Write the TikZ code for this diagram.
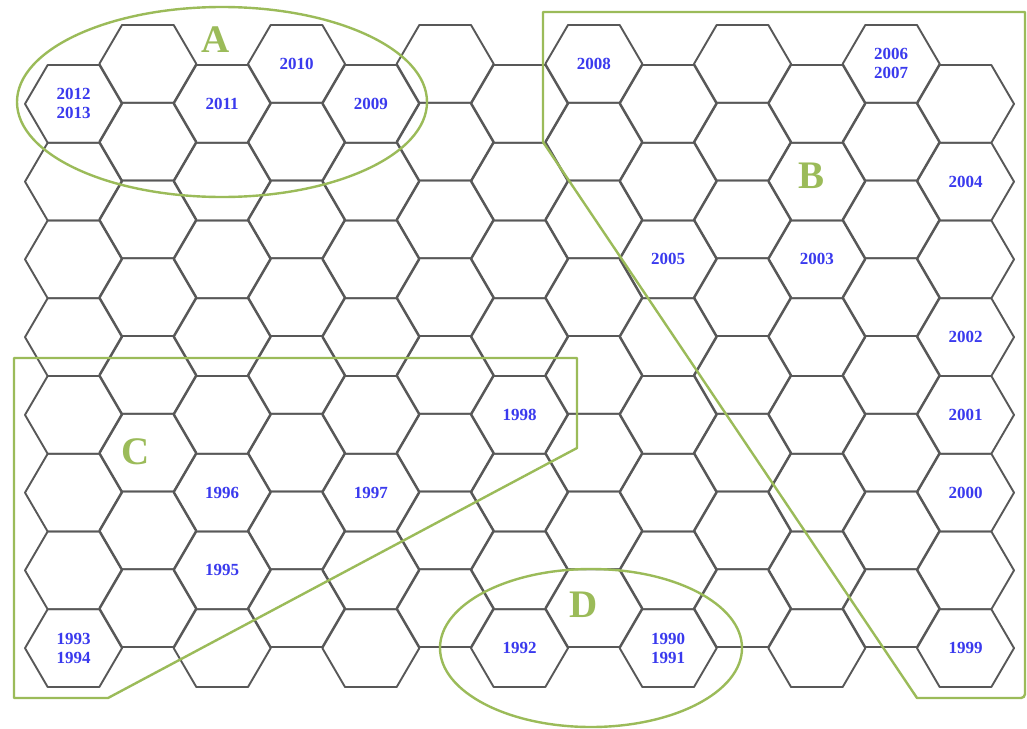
\documentclass[tikz,border=0pt]{standalone}
\usepackage{fontspec}
\setmainfont{Liberation Serif}
\definecolor{hexgray}{RGB}{88,88,88}
\definecolor{regiongreen}{RGB}{155,187,89}
\definecolor{yearblue}{RGB}{58,58,238}
\begin{document}
\begin{tikzpicture}[x=1pt,y=-1pt,
  hexline/.style={draw=hexgray,line width=1.9pt,line join=round},
  region/.style={draw=regiongreen,line width=2.4pt,line join=round},
  yr/.style={text=yearblue,font=\fontsize{17}{19}\selectfont\bfseries,align=center,inner sep=0pt},
  letter/.style={text=regiongreen,font=\fontsize{39}{40}\selectfont\bfseries,inner sep=0pt}]
\useasboundingbox (0,0) rectangle (1027,728);
\fill[white] (0,0) rectangle (1027,728);
% hexagon grid: 13 columns x 8 rows
\foreach \c in {1,...,13}{
  \foreach \r in {1,...,8}{
    \pgfmathsetmacro\cx{73.5+(\c-1)*74.333}
    \pgfmathsetmacro\cy{63.875+40*mod(\c,2)+(\r-1)*77.75}
    \coordinate (h-\c-\r) at (\cx,\cy);
    \draw[hexline] (\cx-48.5,\cy) -- ++(22.67,-38.875) -- ++(51.67,0)
      -- ++(22.67,38.875) -- ++(-22.67,38.875) -- ++(-51.67,0) -- cycle;
  }
}
% year labels
\node[yr] (y2012) at (h-1-1) {2012\\2013};
\node[yr] (y2011) at (h-3-1) {2011};
\node[yr] (y2010) at (h-4-1) {2010};
\node[yr] (y2009) at (h-5-1) {2009};
\node[yr] (y2008) at (h-8-1) {2008};
\node[yr] (y2006) at (h-12-1) {2006\\2007};
\node[yr] (y2004) at (h-13-2) {2004};
\node[yr] (y2005) at (h-9-3) {2005};
\node[yr] (y2003) at (h-11-3) {2003};
\node[yr] (y2002) at (h-13-4) {2002};
\node[yr] (y2001) at (h-13-5) {2001};
\node[yr] (y2000) at (h-13-6) {2000};
\node[yr] (y1999) at (h-13-8) {1999};
\node[yr] (y1998) at (h-7-5) {1998};
\node[yr] (y1997) at (h-5-6) {1997};
\node[yr] (y1996) at (h-3-6) {1996};
\node[yr] (y1995) at (h-3-7) {1995};
\node[yr] (y1993) at (h-1-8) {1993\\1994};
\node[yr] (y1992) at (h-7-8) {1992};
\node[yr] (y1990) at (h-9-8) {1990\\1991};
% regions
\draw[region] (222,102) ellipse [x radius=205, y radius=95];
\draw[region] (591,648) ellipse [x radius=151, y radius=79];
\draw[region] (543,12) -- (1025,12) [rounded corners=4pt] -- (1025,698) [sharp corners] -- (917,698) -- (543,142) -- cycle;
\draw[region] (14,358) -- (577,358) -- (577,448) -- (108,698) -- (14,698) -- cycle;
% region letters
\node[letter] (lA) at (216,40) {A};
\node[letter] (lB) at (811,176) {B};
\node[letter] (lC) at (136,452) {C};
\node[letter] (lD) at (584,605) {D};
\end{tikzpicture}
\end{document}
